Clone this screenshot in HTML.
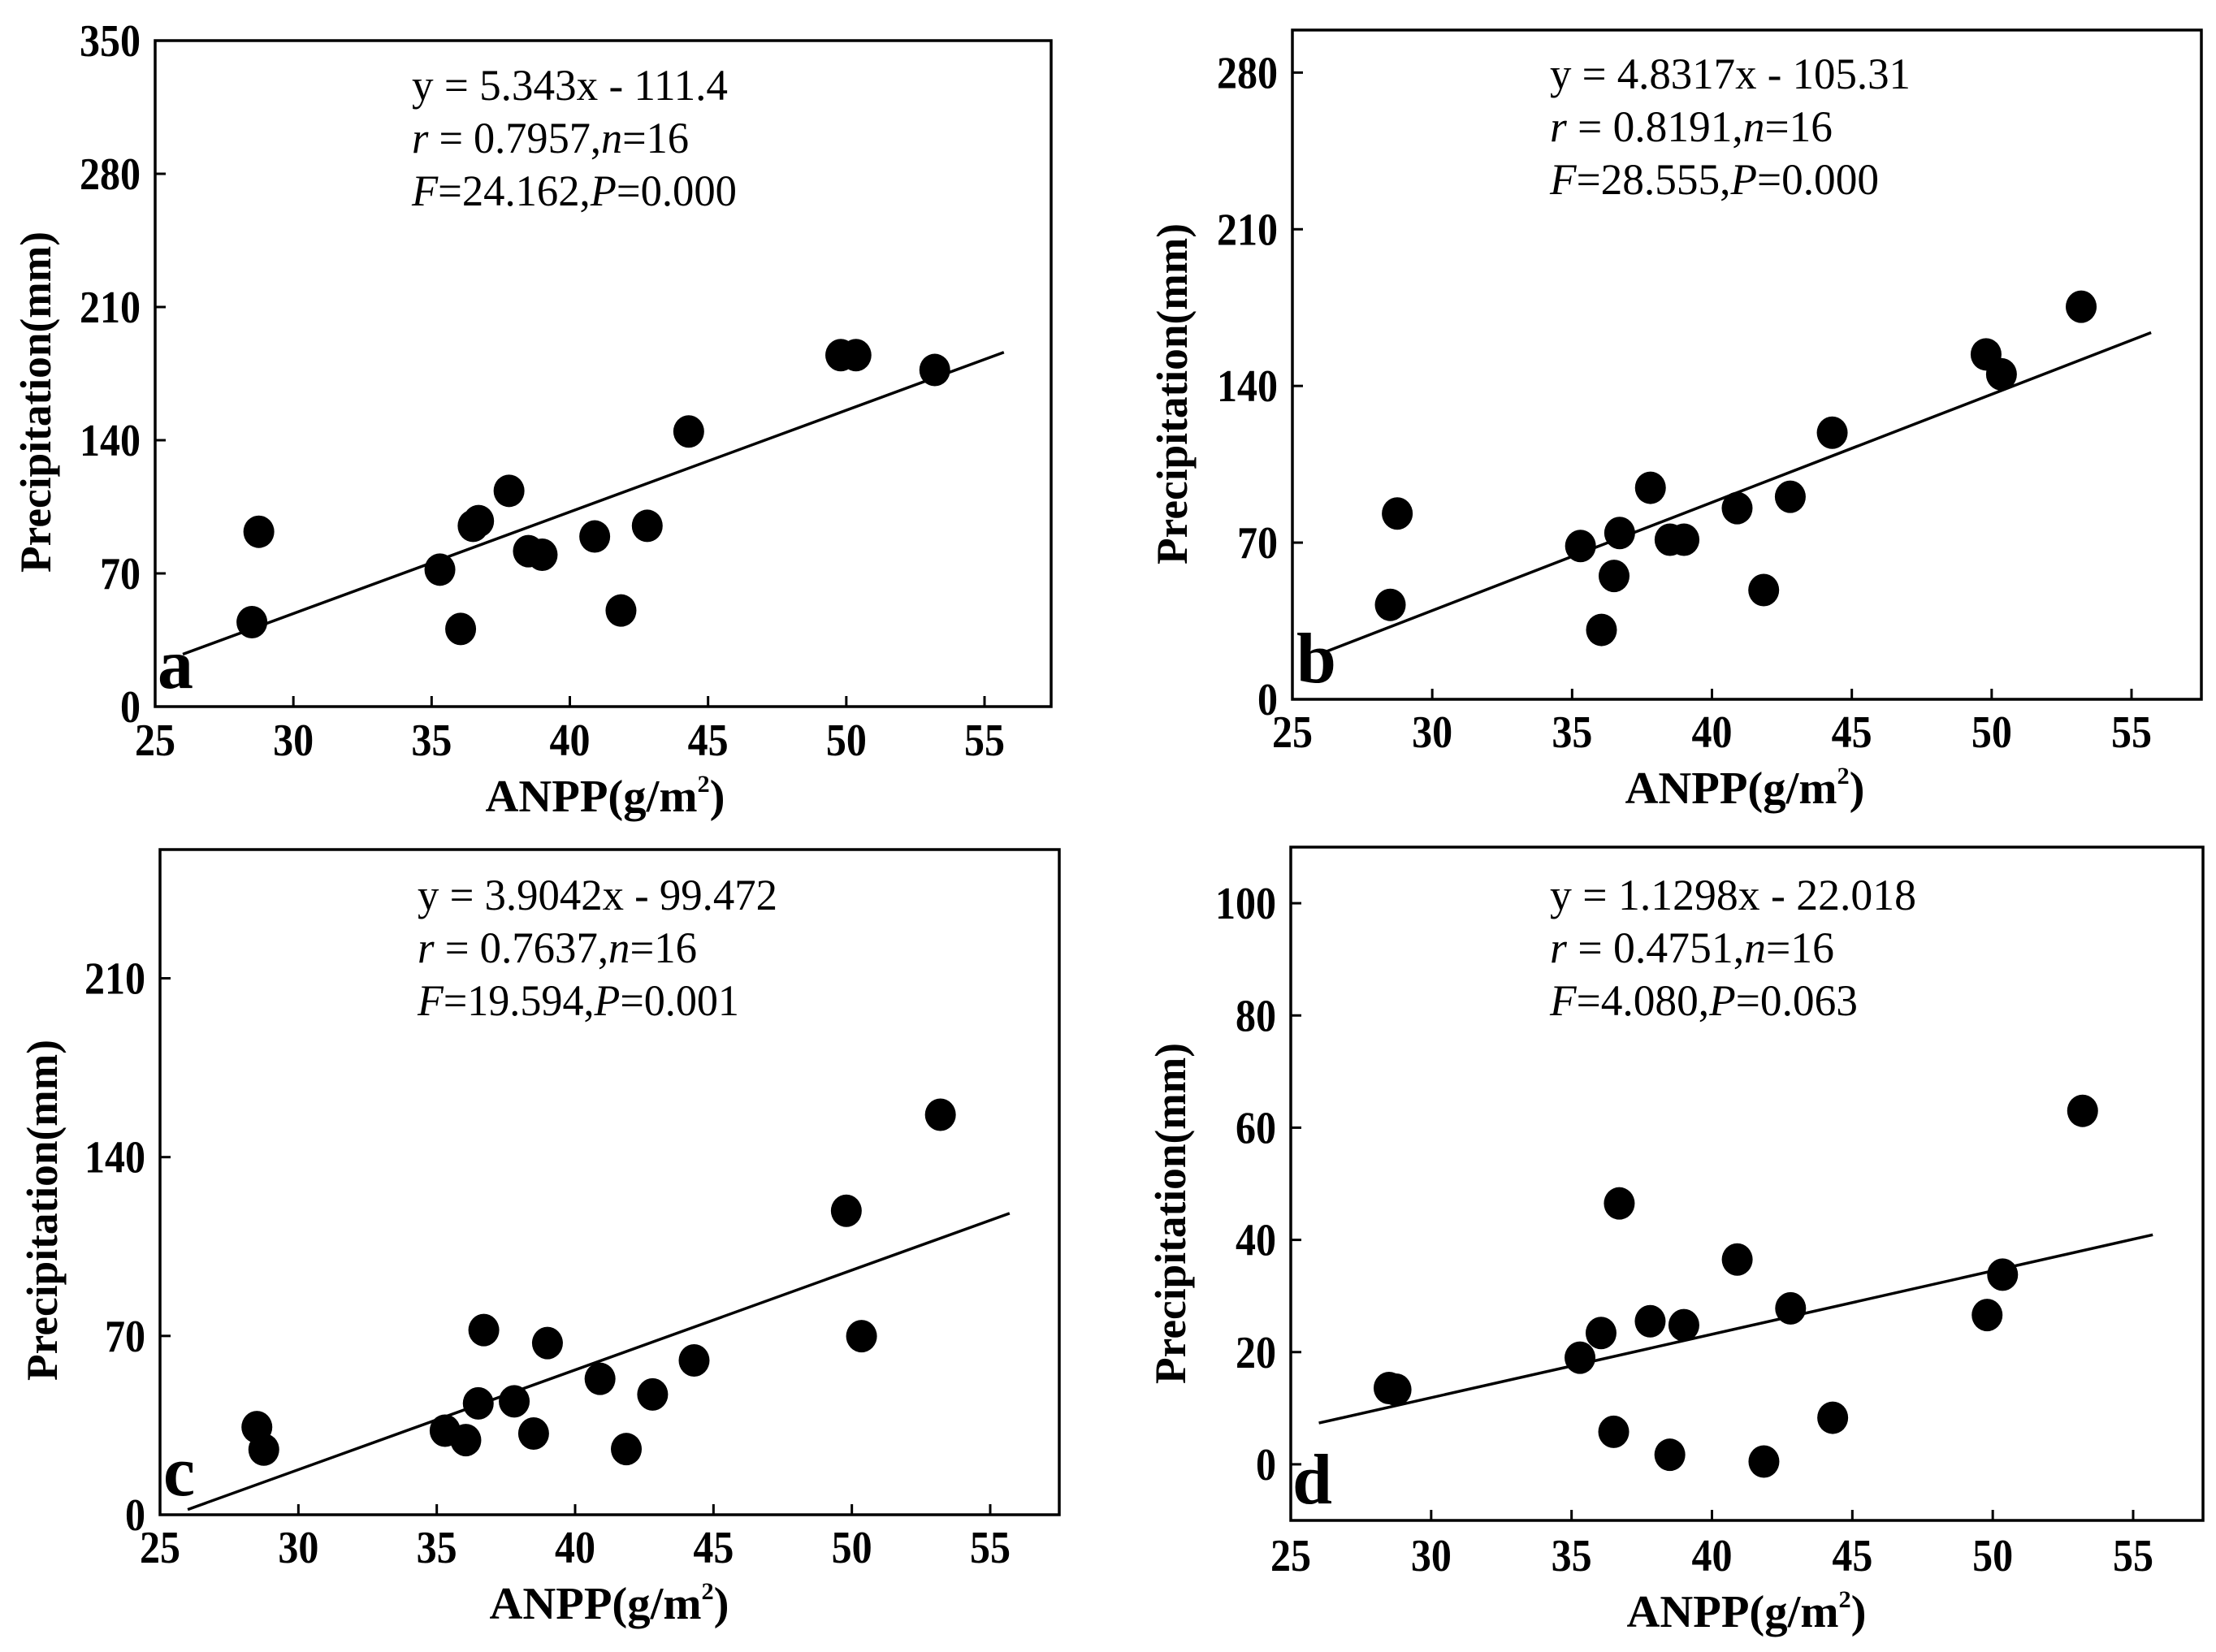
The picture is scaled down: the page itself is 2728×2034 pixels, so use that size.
<!DOCTYPE html>
<html><head><meta charset="utf-8"><style>html,body{margin:0;padding:0;background:#fff}svg{display:block}text{font-family:"Liberation Serif",serif}</style></head>
<body>
<svg id="fig" width="2728" height="2034" viewBox="0 0 2728 2034" xmlns="http://www.w3.org/2000/svg"></svg>
<script>
const anppValues = [28.5,28.75,35.3,36.05,36.5,36.7,37.8,38.5,39.0,40.9,41.85,42.8,44.3,49.8,50.35,53.2];
const precipA = [44.4,91.9,72.0,40.8,95,97.5,113.4,81.7,79.8,89.4,50.5,95.0,144.6,184.7,184.7,176.9];
const precipB = [42.2,83,68.5,31,55.1,74.3,94.5,71.3,71.3,85.4,48.8,90.5,119.1,154.1,145.2,175.4];
const precipC = [34.3,25.5,32.9,29.2,43.6,72.3,44.4,31.8,67.2,53.2,25.7,47.1,60.4,119,69.9,156.6];
const precipD = [13.6,13.3,19.0,23.4,5.8,46.5,25.5,1.7,24.8,36.5,0.5,27.8,8.3,26.6,33.8,63];
const slopes = [5.343,4.8317,3.9042,1.1298];
const intercepts = [-111.4,-105.31,-99.472,-22.018];
const xTicks = [25,30,35,40,45,50,55];
const yTicksA = [0,70,140,210,280,350];
const yTicksB = [0,70,140,210,280];
const yTicksC = [0,70,140,210];
const yTicksD = [0,20,40,60,80,100];
const eqLines = [
 ["y = 5.343x - 111.4","r = 0.7957,n=16","F=24.162,P=0.000"],
 ["y = 4.8317x - 105.31","r = 0.8191,n=16","F=28.555,P=0.000"],
 ["y = 3.9042x - 99.472","r = 0.7637,n=16","F=19.594,P=0.001"],
 ["y = 1.1298x - 22.018","r = 0.4751,n=16","F=4.080,P=0.063"]
];
const panelLetters = ["a","b","c","d"];

const NS="http://www.w3.org/2000/svg";
const svg=document.getElementById('fig');
function mk(tag,attrs,parent){const e=document.createElementNS(NS,tag);for(const k in attrs)e.setAttribute(k,attrs[k]);(parent||svg).appendChild(e);return e;}

const panels=[
 {L:191,R:1294,T:50,B:870,x55:1212,ymin:0,ymax:350,ys:precipA,yt:yTicksA,eqx:507,eqy:123,eqw:[389,341,400],xlab:[745,999],ylab:[44,495],tickBase:930,let:[194,847]},
 {L:1591,R:2710,T:37,B:861,x55:2624,ymin:0,ymax:299,ys:precipB,yt:yTicksB,eqx:1908,eqy:109,eqw:[444,348,405],xlab:[2148,989],ylab:[1443,485],tickBase:920,let:[1596,840]},
 {L:197,R:1304,T:1046,B:1865,x55:1219,ymin:0,ymax:260.4,ys:precipC,yt:yTicksC,eqx:514,eqy:1120,eqw:[443,344,396],xlab:[750,1993],ylab:[52,1490],tickBase:1924,let:[201,1841]},
 {L:1589,R:2712,T:1043,B:1872,x55:2626,ymin:-10,ymax:110,ys:precipD,yt:yTicksD,eqx:1908,eqy:1120,eqw:[451,350,379],xlab:[2150,2003],ylab:[1441,1494],tickBase:1934,let:[1591,1851]}
];

panels.forEach((p,i)=>{
 const g=mk('g',{});
 
 
 const xs=v=>p.L+(v-25)*(p.x55-p.L)/30;
 const ysc=v=>p.B-(v-p.ymin)*(p.B-p.T)/(p.ymax-p.ymin);
 const fr=mk('rect',{x:p.L,y:p.T,width:p.R-p.L,height:p.B-p.T,fill:'none',stroke:'#000','stroke-width':3.5},g);
 
 
 xTicks.forEach(t=>{
  const x=xs(t);
  if(t>25){const tk=mk('line',{x1:x,x2:x,y1:p.B,y2:p.B-13,stroke:'#000','stroke-width':3},g);
   
   }
  const tl=mk('text',{x:x,y:p.tickBase,'text-anchor':'middle','font-size':56,'font-weight':'bold',textLength:String(t).length*25,lengthAdjust:'spacingAndGlyphs'},g);
  tl.textContent=t;
  
  
 });
 p.yt.forEach(t=>{
  const y=ysc(t);
  const tk=mk('line',{x1:p.L,x2:p.L+13,y1:y,y2:y,stroke:'#000','stroke-width':3},g);
  
  
  const tl=mk('text',{x:p.L-18,y:y+19,'text-anchor':'end','font-size':56,'font-weight':'bold',textLength:String(t).length*25,lengthAdjust:'spacingAndGlyphs'},g);
  tl.textContent=t;
  
  
 });
 const x0=26,x1=55.7;
 const ln=mk('line',{x1:xs(x0),y1:ysc(slopes[i]*x0+intercepts[i]),x2:xs(x1),y2:ysc(slopes[i]*x1+intercepts[i]),stroke:'#000','stroke-width':3.5},g);
 
 
 anppValues.forEach((xv,j)=>{
  const c=mk('ellipse',{cx:xs(xv),cy:ysc(p.ys[j]),rx:19,ry:20,fill:'#000'},g);
  
  
 });
 eqLines[i].forEach((s,k)=>{
  const t=mk('text',{x:p.eqx,y:p.eqy+k*65,'font-size':54,textLength:p.eqw[k],lengthAdjust:'spacingAndGlyphs'},g);
  
  
  if(k===0){t.textContent=s;}
  else{
   const parts=k===1?[["r",1],[s.slice(1,s.indexOf('n=')),0],["n",1],["=16",0]]
     :[["F",1],[s.slice(1,s.indexOf('P=')),0],["P",1],[s.slice(s.indexOf('P=')+1),0]];
   parts.forEach(([txt,it])=>{const sp=mk('tspan',it?{'font-style':'italic'}:{},t);sp.textContent=txt;});
  }
 });
 const xl=mk('text',{x:p.xlab[0],y:p.xlab[1],'text-anchor':'middle','font-size':56,'font-weight':'bold',textLength:295,lengthAdjust:'spacingAndGlyphs'},g);
 
 
 xl.innerHTML='ANPP(g/m<tspan dy="-24" font-size="30">2</tspan><tspan dy="24">)</tspan>';
 const yl=mk('text',{x:0,y:0,'text-anchor':'middle','font-size':54,'font-weight':'bold',textLength:420,lengthAdjust:'spacingAndGlyphs',transform:`translate(${p.ylab[0]+18},${p.ylab[1]}) rotate(-90)`},g);
 yl.textContent='Precipitation(mm)';
 
 
 const lt=mk('text',{x:p.let[0],y:p.let[1],'font-size':88,'font-weight':'bold'},g);
 lt.textContent=panelLetters[i];
 
 
});
</script>
</body></html>
